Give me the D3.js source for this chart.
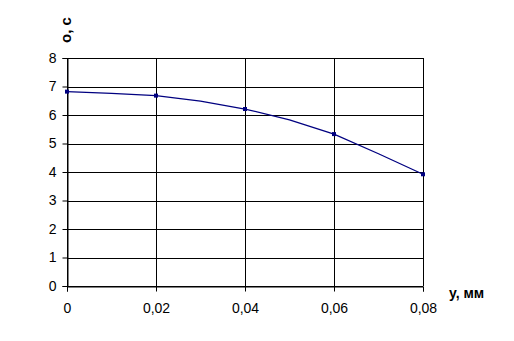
<!DOCTYPE html>
<html>
<head>
<meta charset="utf-8">
<script src="https://cdn.jsdelivr.net/npm/d3@7"></script>
<style>
  body { margin: 0; background: #fff; }
  svg text { font-family: "Liberation Sans", Arial, sans-serif; }
</style>
</head>
<body>
<div id="chart"></div>
<script>
// theta vs y chart

var curveX = [0, 0.01, 0.02, 0.03, 0.04, 0.05, 0.06, 0.07, 0.08];
var curveTheta = [6.82, 6.76, 6.68, 6.49, 6.21, 5.83, 5.33, 4.64, 3.92];
var markerX = [0, 0.02, 0.04, 0.06, 0.08];
var markerTheta = [6.82, 6.68, 6.21, 5.33, 3.92];
var xTicks = [0, 0.02, 0.04, 0.06, 0.08];
var yTicks = [0, 1, 2, 3, 4, 5, 6, 7, 8];

var margin = {top: 58, right: 91, bottom: 55, left: 67},
    width = 514 - margin.left - margin.right,
    height = 341 - margin.top - margin.bottom;

var svg = d3.select("#chart").append("svg")
    .attr("width", 514)
    .attr("height", 341);
var g = svg.append("g").attr("transform", "translate(" + margin.left + "," + margin.top + ")");

var x = d3.scaleLinear().domain([0, 0.08]).range([0, width]);
var y = d3.scaleLinear().domain([0, 8]).range([height, 0]);

// grid
g.append("g")
  .selectAll("line")
  .data(yTicks)
  .enter().append("line")
    .attr("x1", 0).attr("x2", width)
    .attr("y1", function(d) { return Math.round(y(d)) + 0.5; })
    .attr("y2", function(d) { return Math.round(y(d)) + 0.5; })
    .attr("stroke", "#000");
g.append("g")
  .selectAll("line")
  .data(xTicks)
  .enter().append("line")
    .attr("y1", 0).attr("y2", height)
    .attr("x1", function(d) { return Math.round(x(d)) + 0.5; })
    .attr("x2", function(d) { return Math.round(x(d)) + 0.5; })
    .attr("stroke", "#000");

var fmt = function(d) { return d === 0 ? "0" : d3.format(".2f")(d).replace(".", ","); };

var xAxis = g.append("g")
    .attr("transform", "translate(0," + (Math.round(height) + 0.5) + ")")
    .call(d3.axisBottom(x).tickValues(xTicks).tickSize(5).tickPadding(12).tickFormat(fmt));
var yAxis = g.append("g")
    .attr("transform", "translate(0.5,0)")
    .call(d3.axisLeft(y).tickValues(yTicks).tickSize(5).tickPadding(6));

[xAxis, yAxis].forEach(function(a) {
  a.select(".domain").attr("stroke", "#000");
  a.selectAll(".tick line").attr("stroke", "#000");
  a.selectAll("text").attr("font-size", 14).attr("fill", "#000")
    .attr("font-family", "'Liberation Sans', Arial, sans-serif");
});

// curve
var line = d3.line()
    .x(function(d, i) { return x(curveX[i]); })
    .y(function(d) { return y(d); });
g.append("path")
    .datum(curveTheta)
    .attr("fill", "none")
    .attr("stroke", "#000080")
    .attr("stroke-width", 1.3)
    .attr("d", line);

g.append("g")
  .selectAll("rect")
  .data(markerTheta)
  .enter().append("rect")
    .attr("x", function(d, i) { return x(markerX[i]) - 2; })
    .attr("y", function(d) { return y(d) - 2; })
    .attr("width", 4)
    .attr("height", 4)
    .attr("fill", "#000080");

// axis titles
svg.append("text")
    .attr("transform", "translate(71,30) rotate(-90)")
    .attr("text-anchor", "middle")
    .attr("font-size", 15)
    .attr("font-weight", "bold")
    .text("о, с");
svg.append("text")
    .attr("x", 449)
    .attr("y", 298)
    .attr("font-size", 14)
    .attr("font-weight", "bold")
    .text("у, мм");
</script>
</body>
</html>
